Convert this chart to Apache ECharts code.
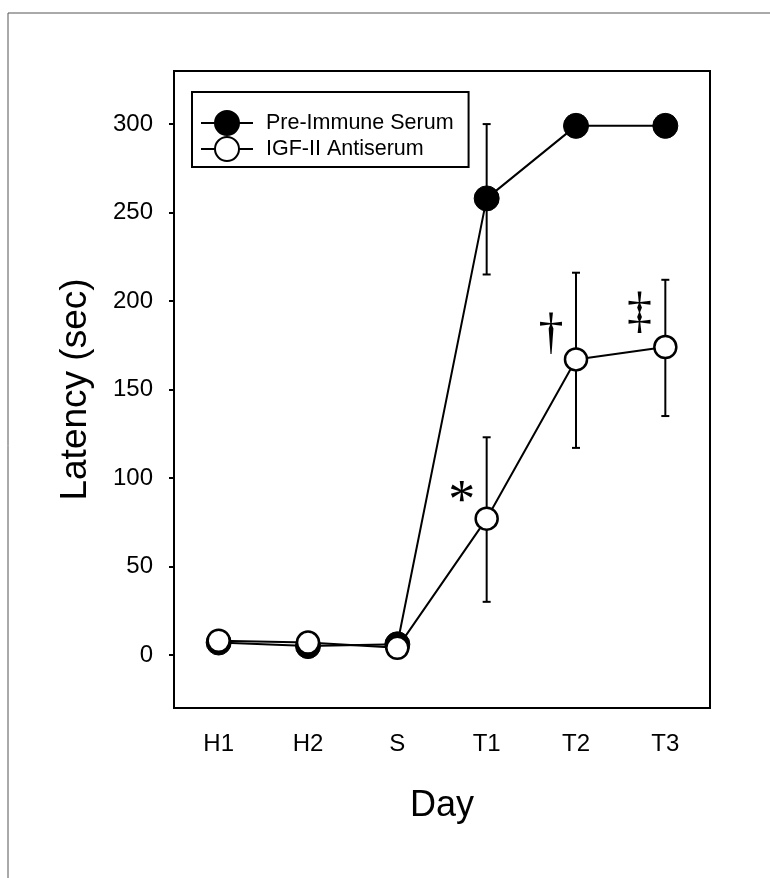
<!DOCTYPE html>
<html>
<head>
<meta charset="utf-8">
<script src="https://cdn.jsdelivr.net/npm/echarts@6/dist/echarts.min.js"></script>
<style>html,body{margin:0;padding:0;background:#fff}#c{width:770px;height:878px}</style>
</head>
<body>
<div id="c"></div>
<script>
const days = ['H1', 'H2', 'S', 'T1', 'T2', 'T3'];
const preImmune = [7, 5, 6, 258, 299, 299];
const preImmuneLow = [null, null, null, 215, null, null];
const preImmuneHigh = [null, null, null, 300, null, null];
const antiserum = [8, 7, 4, 77, 167, 174];
const antiserumLow = [null, null, null, 30, 117, 135];
const antiserumHigh = [null, null, null, 123, 216, 212];
const yTicks = [0, 50, 100, 150, 200, 250, 300];
// significance marks: [category index, offset in categories, value, glyph]
const marks = [[3, -0.28, 86, '*'], [4, -0.28, 181, '\u2020'], [5, -0.29, 193, '\u2021']];

const chart = echarts.init(document.getElementById('c'), null, {renderer: 'canvas'});
const FONT = 'Liberation Sans';

function errSeries(name, low, high) {
  const data = [];
  low.forEach((l, i) => { if (l != null) data.push([i, l, high[i]]); });
  return {
    type: 'custom', name: name + ' err', silent: true, z: 1,
    renderItem: function (params, api) {
      const x = api.value(0);
      const lo = api.coord([x, api.value(1)]);
      const hi = api.coord([x, api.value(2)]);
      const w = 4;
      const st = {stroke: '#000', lineWidth: 2};
      return {type: 'group', children: [
        {type: 'line', shape: {x1: lo[0], y1: lo[1], x2: hi[0], y2: hi[1]}, style: st},
        {type: 'line', shape: {x1: lo[0] - w, y1: lo[1], x2: lo[0] + w, y2: lo[1]}, style: st},
        {type: 'line', shape: {x1: hi[0] - w, y1: hi[1], x2: hi[0] + w, y2: hi[1]}, style: st}
      ]};
    },
    data: data
  };
}

chart.setOption({
  animation: false,
  backgroundColor: '#fff',
  graphic: [
    {type: 'line', shape: {x1: 8, y1: 13, x2: 770, y2: 13}, style: {stroke: '#555', lineWidth: 1}},
    {type: 'line', shape: {x1: 8, y1: 13, x2: 8, y2: 878}, style: {stroke: '#555', lineWidth: 1}}
  ],
  grid: {left: 174, top: 71, width: 536, height: 637, show: true, borderColor: '#000', borderWidth: 2, backgroundColor: 'transparent'},
  legend: {
    left: 192, top: 92, orient: 'vertical',
    padding: [18, 15, 5, 8],
    itemWidth: 52, itemHeight: 30, itemGap: 0,
    borderColor: '#000', borderWidth: 2,
    textStyle: {fontFamily: FONT, fontSize: 21.5, color: '#000', padding: [0, 0, 0, 8]},
    data: ['Pre-Immune Serum', 'IGF-II Antiserum']
  },
  xAxis: {
    type: 'category', data: days, boundaryGap: true,
    name: 'Day', nameLocation: 'middle', nameGap: 80,
    nameTextStyle: {fontFamily: FONT, fontSize: 36, color: '#000'},
    axisLine: {onZero: false, lineStyle: {color: '#000', width: 2}},
    axisTick: {alignWithLabel: true, length: 5, inside: false, lineStyle: {color: '#000', width: 2}},
    axisLabel: {fontFamily: FONT, fontSize: 24, color: '#000', margin: 24},
    splitLine: {show: false}
  },
  yAxis: {
    type: 'value', min: -30, max: 330,
    name: 'Latency (sec)', nameLocation: 'middle', nameGap: 80,
    nameTextStyle: {fontFamily: FONT, fontSize: 37, color: '#000'},
    axisLine: {show: true, onZero: false, lineStyle: {color: '#000', width: 2}},
    axisTick: {show: true, length: 5, lineStyle: {color: '#000', width: 2},
      customValues: yTicks},
    axisLabel: {fontFamily: FONT, fontSize: 24, color: '#000', margin: 21,
      customValues: yTicks},
    splitLine: {show: false}
  },
  series: [
    errSeries('Pre-Immune Serum', preImmuneLow, preImmuneHigh),
    errSeries('IGF-II Antiserum', antiserumLow, antiserumHigh),
    {
      name: 'Pre-Immune Serum', type: 'line', data: preImmune, z: 2,
      symbol: 'circle', symbolSize: 25, showAllSymbol: true,
      lineStyle: {color: '#000', width: 2},
      itemStyle: {color: '#000', borderColor: '#000', borderWidth: 1}
    },
    {
      name: 'IGF-II Antiserum', type: 'line', data: antiserum, z: 3,
      symbol: 'circle', symbolSize: 22, showAllSymbol: true,
      lineStyle: {color: '#000', width: 2},
      itemStyle: {color: '#fff', borderColor: '#000', borderWidth: 2.5}
    },
    {
      type: 'custom', name: 'marks', silent: true, z: 4,
      renderItem: function (params, api) {
        const p = api.coord([api.value(0), api.value(2)]);
        const cw = api.size([1, 0])[0];
        const g = marks[params.dataIndex][3];
        return {type: 'text', x: p[0] + api.value(1) * cw, y: p[1],
          style: {text: g, fill: '#000', font: (g === '*' ? '54px' : '50px') + ' "Liberation Serif"',
            align: 'center', verticalAlign: 'middle'}};
      },
      data: marks.map(m => [m[0], m[1], m[2]])
    }
  ]
});
</script>
</body>
</html>
